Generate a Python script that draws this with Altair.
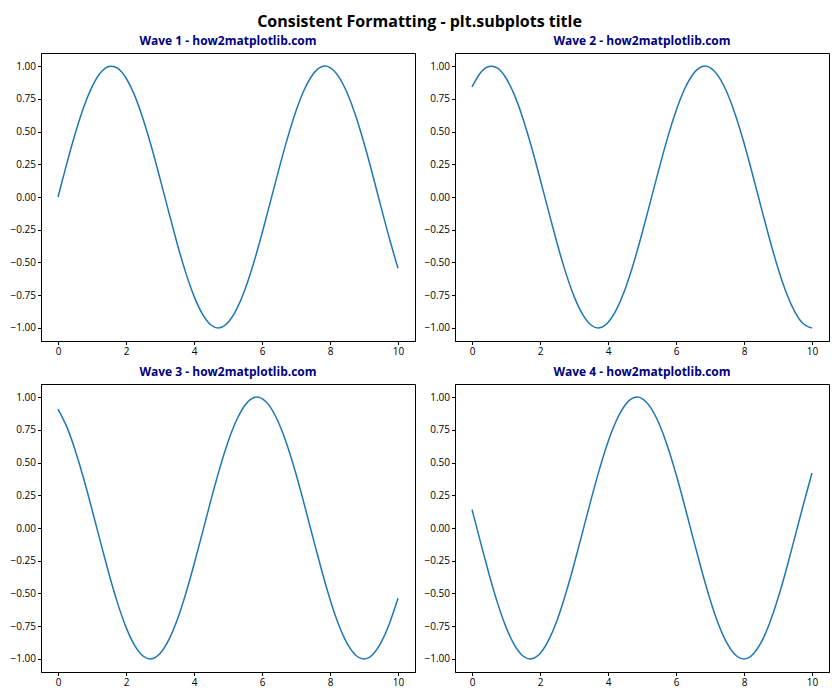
import altair as alt
import pandas as pd

x_vals = [0, 0.25, 0.5, 0.75, 1, 1.25, 1.5, 1.75, 2, 2.25, 2.5, 2.75, 3, 3.25, 3.5, 3.75,
          4, 4.25, 4.5, 4.75, 5, 5.25, 5.5, 5.75, 6, 6.25, 6.5, 6.75, 7, 7.25, 7.5, 7.75,
          8, 8.25, 8.5, 8.75, 9, 9.25, 9.5, 9.75, 10]

wave1 = [0.000, 0.247, 0.479, 0.682, 0.841, 0.949, 0.997, 0.984, 0.909, 0.778, 0.598,
         0.382, 0.141, -0.108, -0.351, -0.572, -0.757, -0.895, -0.978, -0.999, -0.959,
         -0.859, -0.706, -0.508, -0.279, -0.033, 0.215, 0.450, 0.657, 0.823, 0.938,
         0.995, 0.989, 0.922, 0.798, 0.625, 0.412, 0.174, -0.075, -0.319, -0.544]
wave2 = [0.841, 0.949, 0.997, 0.984, 0.909, 0.778, 0.598, 0.382, 0.141, -0.108, -0.351,
         -0.572, -0.757, -0.895, -0.978, -0.999, -0.959, -0.859, -0.706, -0.508, -0.279,
         -0.033, 0.215, 0.450, 0.657, 0.823, 0.938, 0.995, 0.989, 0.922, 0.798,
         0.625, 0.412, 0.174, -0.075, -0.319, -0.544, -0.735, -0.880, -0.970, -1.000]
wave3 = [0.909, 0.778, 0.598, 0.382, 0.141, -0.108, -0.351, -0.572, -0.757, -0.895, -0.978,
         -0.999, -0.959, -0.859, -0.706, -0.508, -0.279, -0.033, 0.215, 0.450, 0.657,
         0.823, 0.938, 0.995, 0.989, 0.922, 0.798, 0.625, 0.412, 0.174, -0.075,
         -0.319, -0.544, -0.735, -0.880, -0.970, -1.000, -0.968, -0.876, -0.729, -0.537]
wave4 = [0.141, -0.108, -0.351, -0.572, -0.757, -0.895, -0.978, -0.999, -0.959, -0.859, -0.706,
         -0.508, -0.279, -0.033, 0.215, 0.450, 0.657, 0.823, 0.938, 0.995, 0.989,
         0.922, 0.798, 0.625, 0.412, 0.174, -0.075, -0.319, -0.544, -0.735, -0.880,
         -0.970, -1.000, -0.968, -0.876, -0.729, -0.537, -0.311, -0.066, 0.183, 0.420]

titles = ["Wave 1 - how2matplotlib.com", "Wave 2 - how2matplotlib.com",
          "Wave 3 - how2matplotlib.com", "Wave 4 - how2matplotlib.com"]
x_ticks = [0, 2, 4, 6, 8, 10]
y_ticks = [-1.0, -0.75, -0.5, -0.25, 0.0, 0.25, 0.5, 0.75, 1.0]

FONT = "Open Sans"


def panel(ys, title):
    df = pd.DataFrame({"x": x_vals, "y": ys})
    return alt.Chart(df).mark_line(
        color="#1f77b4", strokeWidth=1.5, interpolate="natural", clip=True
    ).encode(
        x=alt.X("x:Q", scale=alt.Scale(domain=[-0.5, 10.5], nice=False, zero=False),
                axis=alt.Axis(values=x_ticks, title=None, format="d")),
        y=alt.Y("y:Q", scale=alt.Scale(domain=[-1.1, 1.1], nice=False, zero=False),
                axis=alt.Axis(values=y_ticks, title=None, format=".2f")),
    ).properties(
        width=374, height=288,
        title=alt.TitleParams(title, color="#000080", fontSize=12, fontWeight="bold",
                              font=FONT, offset=5),
    )


row1 = alt.hconcat(panel(wave1, titles[0]), panel(wave2, titles[1]), spacing=7)
row2 = alt.hconcat(panel(wave3, titles[2]), panel(wave4, titles[3]), spacing=7)

chart = alt.vconcat(row1, row2, spacing=8).properties(
    title=alt.TitleParams("Consistent Formatting - plt.subplots title", fontSize=16,
                          fontWeight="bold", font=FONT, anchor="middle", color="black",
                          offset=5),
    padding={"left": 1, "top": 5, "right": 2, "bottom": 2},
).configure(
    background="white"
).configure_view(
    stroke="black", strokeWidth=1
).configure_axis(
    grid=False, domainColor="black", tickColor="black", tickSize=3.5,
    labelFont=FONT, labelFontSize=10, labelColor="black", labelPadding=2,
    domain=True,
)

chart.save("out.html", embed_options={"renderer": "svg", "actions": False})
